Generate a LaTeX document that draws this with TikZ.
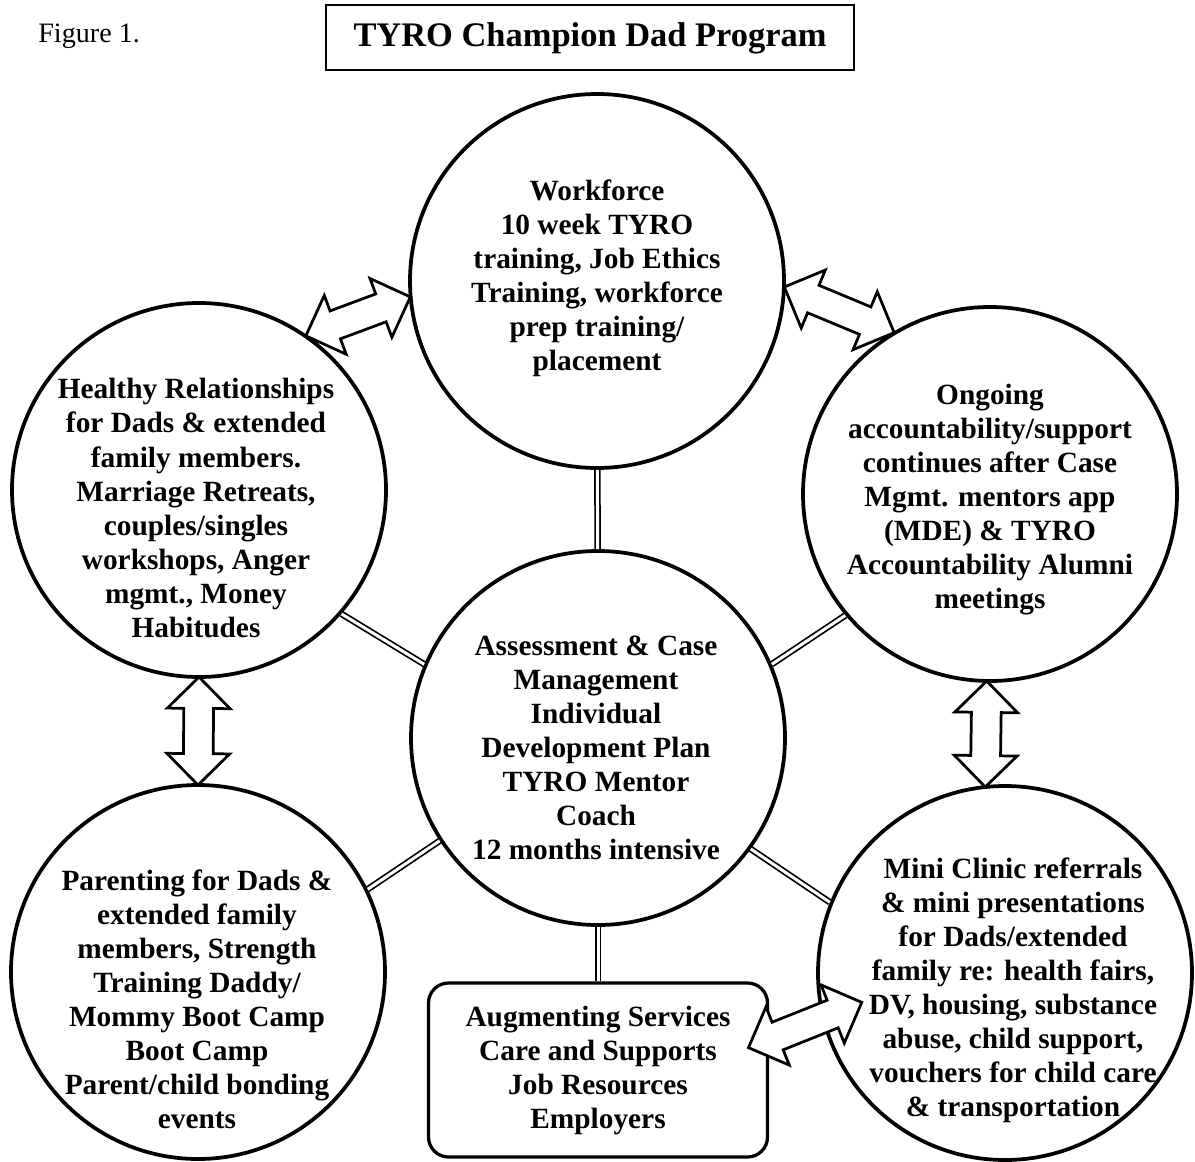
\documentclass[tikz,border=0pt]{standalone}
\usepackage{fontspec}
\setmainfont{Liberation Serif}
\usetikzlibrary{shapes.arrows}

\tikzset{
  bubble/.style={circle, draw, line width=0.75mm, minimum size=74.8mm, inner sep=0pt},
  blurb/.style={align=center, inner sep=0pt, font=\fontsize{16.7}{19.35}\selectfont\bfseries},
  link/.style={double, double distance=0.6mm, line width=0.35mm},
  twoway/.style={double arrow, draw, fill=white, line width=0.55mm, sloped,
    double arrow head extend=3.3mm, inner xsep=0pt, inner ysep=2.7mm}
}

\begin{document}
\begin{tikzpicture}[x=0.2mm, y=-0.2mm]
\useasboundingbox (0,0) rectangle (1195,1162);

% heading
\node[anchor=west, inner sep=0pt, font=\fontsize{16}{19}\selectfont] (fig) at (38,36) {Figure 1.};
\node[draw, line width=0.4mm, minimum width=105.4mm, minimum height=13mm,
  font=\fontsize{19.6}{23}\selectfont\bfseries] (title) at (590,38) {TYRO Champion Dad Program};

% the six circles and the box
\node[bubble] (wf) at (597,281) {};
\node[bubble] (hr) at (199,490) {};
\node[bubble] (og) at (990,494) {};
\node[bubble] (cm) at (598,738) {};
\node[bubble] (par) at (198,972) {};
\node[bubble] (mc) at (1005,973) {};
\node[draw, rounded corners=4mm, line width=0.65mm, minimum width=67.8mm, minimum height=34.8mm,
  blurb] (aug) at (598,1070) {Augmenting Services\\Care and Supports\\Job Resources\\Employers};

\node[blurb] (wf-txt) at (597,278) {Workforce\\10 week TYRO\\training, Job Ethics\\Training, workforce\\prep training/\\placement};
\node[blurb] (hr-txt) at (196,508) {Healthy Relationships\\for Dads \& extended\\family members.\\Marriage Retreats,\\couples/singles\\workshops, Anger\\mgmt., Money\\Habitudes};
\node[blurb] (og-txt) at (990,500) {Ongoing\\accountability/support\\continues after Case\\Mgmt. mentors app\\(MDE) \& TYRO\\Accountability Alumni\\meetings};
\node[blurb] (cm-txt) at (596,748) {Assessment \& Case\\Management\\Individual\\Development Plan\\TYRO Mentor\\Coach\\12 months intensive};
\node[blurb] (par-txt) at (197,999) {Parenting for Dads \&\\extended family\\members, Strength\\Training Daddy/\\Mommy Boot Camp\\Boot Camp\\Parent/child bonding\\events};
\node[blurb] (mc-txt) at (1013,990) {Mini Clinic referrals\\\& mini presentations\\for Dads/extended\\family re: health fairs,\\DV, housing, substance\\abuse, child support,\\vouchers for child care\\\& transportation};

% spokes
\draw[link] (wf) -- (cm);
\draw[link] (cm) -- (aug);
\draw[link] (hr.-41) -- (cm.157);
\draw[link] (cm.23) -- (og.220);
\draw[link] (cm.213) -- (par.26);
\draw[link] (cm.-36) -- (mc.158);

% block arrows
\path (hr.55) -- node[twoway, minimum height=22.3mm] (hr-wf) {} (wf.185);
\path (wf.-2) -- node[twoway, minimum height=23.8mm] (wf-og) {} (og.121);
\path (hr.south) -- node[twoway, minimum height=21.6mm] (hr-par) {} (par.north);
\path (og.-91) -- node[twoway, minimum height=21.2mm] (og-mc) {} (mc.96);
\path ([shift={(-19,-23)}]aug.east) -- node[twoway, minimum height=24.4mm] (aug-mc) {} ([shift={(44,30)}]mc.west);
\end{tikzpicture}
\end{document}
